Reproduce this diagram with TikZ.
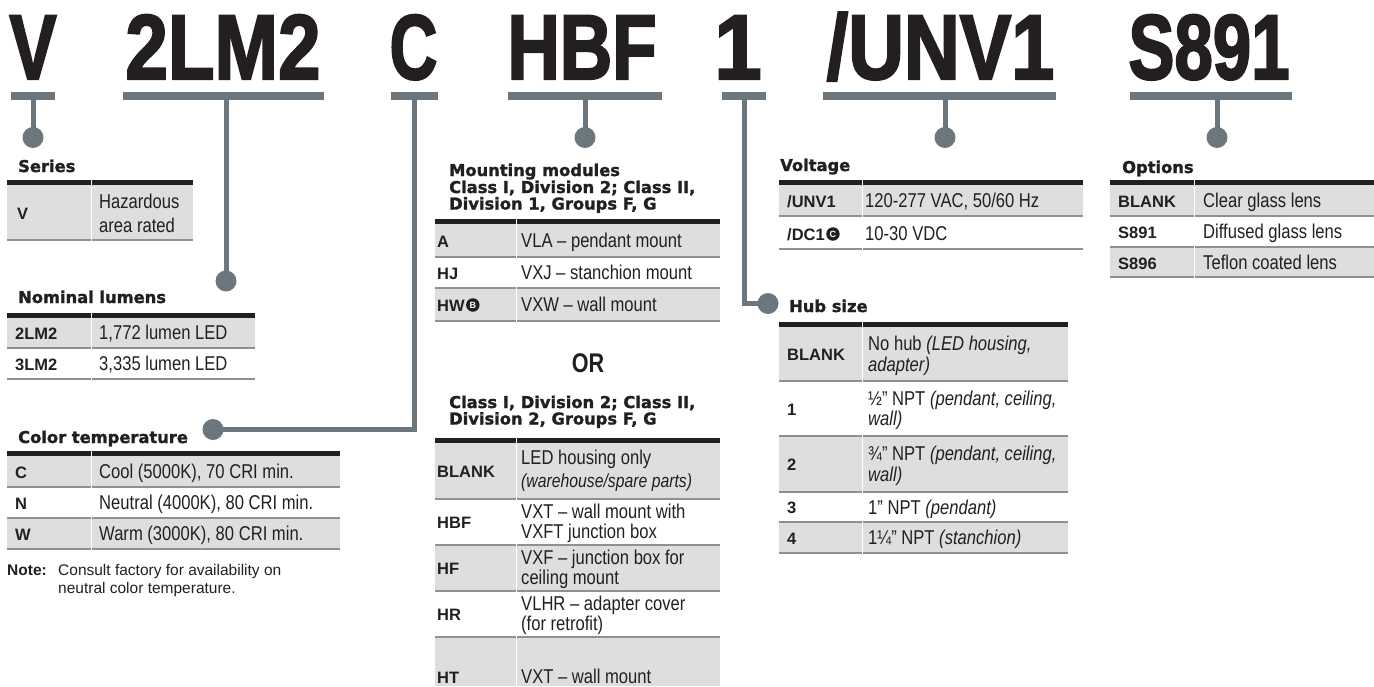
\documentclass[tikz,border=0pt]{standalone}
\usepackage{fontspec}
\setmainfont{Liberation Sans}
\newfontfamily\descf{Liberation Sans}[FakeStretch=0.83]
\newfontfamily\bigf{Liberation Sans}[BoldFeatures={FakeBold=2.5}]
\newfontfamily\hdrf{DejaVu Sans}[BoldFeatures={FakeBold=1.5}]
\definecolor{ink}{HTML}{231F20}
\definecolor{conn}{HTML}{6B767D}
\definecolor{rowgray}{HTML}{DDDEE0}
\definecolor{rulegray}{HTML}{8E9092}
\tikzset{
  big/.style={font=\bigf\bfseries\fontsize{92}{92}\selectfont, anchor=base, inner sep=0, text=ink},
  bar/.style={rectangle, fill=conn, inner sep=0, minimum height=8, draw=none},
  dot/.style={circle, fill=conn, inner sep=0, minimum size=21, draw=none},
  stem/.style={draw=conn, line width=5},
  hdr/.style={font=\hdrf\bfseries\fontsize{16.3}{18}\selectfont, anchor=base west, inner sep=0, text=ink},
  code/.style={font=\bfseries\fontsize{16.5}{18}\selectfont, anchor=base west, inner sep=0, text=ink},
  desc/.style={font=\descf\fontsize{20}{22}\selectfont, anchor=base west, inner sep=0, text=ink},
  descit/.style={font=\descf\itshape\fontsize{19}{21}\selectfont, anchor=base west, inner sep=0, text=ink},
  note/.style={font=\fontsize{15.5}{18}\selectfont, anchor=base west, inner sep=0, text=ink},
  circ/.style={circle, fill=ink, inner sep=0, minimum size=13.5, text=white, font=\bfseries\fontsize{9}{9}\selectfont},
  toprule/.style={draw=ink, line width=5},
  rowrule/.style={draw=rulegray, line width=1.5},
  divline/.style={draw=white, line width=0.8},
}
\begin{document}
\begin{tikzpicture}[x=1pt,y=-1pt]
\useasboundingbox (0,0) rectangle (1374,686);

% ---------- big code letters ----------
\node[big] (kV)   at (33,79)    {\scalebox{0.77}[1]{V}};
\node[big] (kLM)  at (223,79)   {\scalebox{0.83}[1]{2LM2}};
\node[big] (kC)   at (413.5,79) {\scalebox{0.72}[1]{C}};
\node[big] (kHBF) at (582,79)   {\scalebox{0.79}[1]{HBF}};
\node[big] (kOne) at (738,79)   {\scalebox{0.92}[1]{1}};
\node[big] (kUNV) at (940.5,79) {\scalebox{0.84}[1]{/UNV1}};
\node[big] (kS)   at (1209,79)  {\scalebox{0.75}[1]{S891}};

% ---------- bars, dots, connectors ----------
\node[bar, minimum width=44]  (bV)   at (33,96) {};
\node[bar, minimum width=201] (bLM)  at (223.5,96) {};
\node[bar, minimum width=47]  (bC)   at (414.5,96) {};
\node[bar, minimum width=154] (bHBF) at (585,96) {};
\node[bar, minimum width=44]  (bOne) at (744,96) {};
\node[bar, minimum width=233] (bUNV) at (939.5,96) {};
\node[bar, minimum width=162] (bS)   at (1211,96) {};

\node[dot] (dV)   at (33,137.5) {};
\node[dot] (dLM)  at (226,281) {};
\node[dot] (dC)   at (213,429.5) {};
\node[dot] (dHBF) at (585,137.5) {};
\node[dot] (dHub) at (768,303.5) {};
\node[dot] (dUNV) at (945,137.5) {};
\node[dot] (dS)   at (1217,137.5) {};

\draw[stem] (bV.south -| dV.center) -- (dV.center);
\draw[stem] (bLM.south -| dLM.center) -- (dLM.center);
\draw[stem] (bC.south) |- (dC.center);
\draw[stem] (bHBF.south -| dHBF.center) -- (dHBF.center);
\draw[stem] (bOne.south) |- (dHub.center);
\draw[stem] (bUNV.south -| dUNV.center) -- (dUNV.center);
\draw[stem] (bS.south -| dS.center) -- (dS.center);

% ---------- Series ----------
\fill[rowgray] (7,185) rectangle (193,240);
\draw[rowrule] (7,240) -- (193,240);
\draw[toprule] (7,182.5) -- (193,182.5);
\draw[divline] (91,180) -- (91,241);
\node[hdr] (tSer) at (18,172) {Series};
\node[code] (sV) at (17,219) {V};
\node[desc] (sV1) at (99,208) {Hazardous};
\node[desc] (sV2) at (99,232) {area rated};

% ---------- Nominal lumens ----------
\fill[rowgray] (7,317) rectangle (255,348);
\draw[rowrule] (7,348) -- (255,348);
\draw[rowrule] (7,379) -- (255,379);
\draw[toprule] (7,315) -- (255,315);
\draw[divline] (91,312.5) -- (91,380);
\node[hdr] (tLum) at (18,303) {Nominal lumens};
\node[code] (l1) at (15,339.5) {2LM2};
\node[desc] (l1d) at (99,339.5) {1,772 lumen LED};
\node[code] (l2) at (15,370.5) {3LM2};
\node[desc] (l2d) at (99,370.5) {3,335 lumen LED};

% ---------- Color temperature ----------
\fill[rowgray] (7,456) rectangle (340,487);
\fill[rowgray] (7,518) rectangle (340,549);
\foreach \yy in {487,518,549} \draw[rowrule] (7,\yy) -- (340,\yy);
\draw[toprule] (7,453.5) -- (340,453.5);
\draw[divline] (91,451) -- (91,550);
\node[hdr] (tCol) at (18,443) {Color temperature};
\node[code] (c1) at (15,478.5) {C};
\node[desc] (c1d) at (99,478.5) {Cool (5000K), 70 CRI min.};
\node[code] (c2) at (15,509.5) {N};
\node[desc] (c2d) at (99,509.5) {Neutral (4000K), 80 CRI min.};
\node[code] (c3) at (15,540.5) {W};
\node[desc] (c3d) at (99,540.5) {Warm (3000K), 80 CRI min.};
\node[note] (n0) at (7,575) {\bfseries Note:};
\node[note] (n1) at (58,575) {Consult factory for availability on};
\node[note] (n2) at (58,593) {neutral color temperature.};

% ---------- Mounting modules ----------
\node[hdr] (tM1) at (449,176) {Mounting modules};
\node[hdr] (tM2) at (449,193) {Class I, Division 2; Class II,};
\node[hdr] (tM3) at (449,209.5) {Division 1, Groups F, G};
\fill[rowgray] (435,224) rectangle (720,257);
\fill[rowgray] (435,288) rectangle (720,321);
\foreach \yy in {257,288,321} \draw[rowrule] (435,\yy) -- (720,\yy);
\draw[toprule] (435,221) -- (720,221);
\draw[divline] (516,218) -- (516,322);
\node[code] (mA) at (437,247.5) {A};
\node[desc] (mAd) at (521,247.5) {VLA – pendant mount};
\node[code] (mHJ) at (437,279) {HJ};
\node[desc] (mHJd) at (521,279) {VXJ – stanchion mount};
\node[code] (mHW) at (437,311) {HW};
\node[circ, anchor=west] (cB) at ([xshift=1pt,yshift=6pt]mHW.base east) {B};
\node[desc] (mHWd) at (521,311) {VXW – wall mount};

\node[font=\bfseries\fontsize{27}{27}\selectfont, anchor=base, inner sep=0, text=ink] (orT) at (588,372) {\scalebox{0.8}[1]{OR}};

\node[hdr] (tM4) at (449,408) {Class I, Division 2; Class II,};
\node[hdr] (tM5) at (449,424.5) {Division 2, Groups F, G};
\fill[rowgray] (435,443) rectangle (720,499);
\fill[rowgray] (435,545) rectangle (720,591);
\fill[rowgray] (435,637) rectangle (720,686);
\foreach \yy in {499,545,591,637} \draw[rowrule] (435,\yy) -- (720,\yy);
\draw[toprule] (435,440) -- (720,440);
\draw[divline] (516,437) -- (516,686);
\node[code] (mBL) at (437,477) {BLANK};
\node[desc] (mBLd) at (521,464) {LED housing only};
\node[descit] (mBLe) at (521,487) {(warehouse/spare parts)};
\node[code] (mHBF) at (437,528) {HBF};
\node[desc] (mHBFd) at (521,518.5) {VXT – wall mount with};
\node[desc] (mHBFe) at (521,538.5) {VXFT junction box};
\node[code] (mHF) at (437,574) {HF};
\node[desc] (mHFd) at (521,564.5) {VXF – junction box for};
\node[desc] (mHFe) at (521,584.5) {ceiling mount};
\node[code] (mHR) at (437,620) {HR};
\node[desc] (mHRd) at (521,610.5) {VLHR – adapter cover};
\node[desc] (mHRe) at (521,630.5) {(for retrofit)};
\node[code] (mHT) at (437,683) {HT};
\node[desc] (mHTd) at (521,683) {VXT – wall mount};

% ---------- Voltage ----------
\node[hdr] (tVol) at (780,171) {Voltage};
\fill[rowgray] (779,185) rectangle (1083,216);
\foreach \yy in {216,249} \draw[rowrule] (779,\yy) -- (1083,\yy);
\draw[toprule] (779,182.5) -- (1083,182.5);
\draw[divline] (862,180) -- (862,250);
\node[code] (v1) at (787,207) {/UNV1};
\node[desc] (v1d) at (865,207) {120-277 VAC, 50/60 Hz};
\node[code] (v2) at (787,240) {/DC1};
\node[circ, anchor=west] (cC) at ([xshift=1pt,yshift=6pt]v2.base east) {C};
\node[desc] (v2d) at (865,240) {10-30 VDC};

% ---------- Hub size ----------
\node[hdr] (tHub) at (789,312) {Hub size};
\fill[rowgray] (779,326) rectangle (1068,381);
\fill[rowgray] (779,436) rectangle (1068,492);
\fill[rowgray] (779,522) rectangle (1068,553);
\foreach \yy in {381,436,492,522,553} \draw[rowrule] (779,\yy) -- (1068,\yy);
\draw[toprule] (779,324) -- (1068,324);
\draw[divline] (862,321.5) -- (862,554);
\node[code] (h0) at (787,360) {BLANK};
\node[desc] (h0d) at (868,350.5) {No hub \itshape (LED housing,};
\node[desc] (h0e) at (868,371) {\itshape adapter)};
\node[code] (h1) at (787,415) {1};
\node[desc] (h1d) at (868,405) {½” NPT \itshape (pendant, ceiling,};
\node[desc] (h1e) at (868,425.5) {\itshape wall)};
\node[code] (h2) at (787,470.5) {2};
\node[desc] (h2d) at (868,460.5) {¾” NPT \itshape (pendant, ceiling,};
\node[desc] (h2e) at (868,481) {\itshape wall)};
\node[code] (h3) at (787,513.5) {3};
\node[desc] (h3d) at (868,514) {1” NPT \itshape (pendant)};
\node[code] (h4) at (787,544) {4};
\node[desc] (h4d) at (868,544.5) {1¼” NPT \itshape (stanchion)};

% ---------- Options ----------
\node[hdr] (tOpt) at (1122,173) {Options};
\fill[rowgray] (1110,184) rectangle (1374,216);
\fill[rowgray] (1110,247) rectangle (1374,277);
\foreach \yy in {216,247,277} \draw[rowrule] (1110,\yy) -- (1374,\yy);
\draw[toprule] (1110,182) -- (1374,182);
\draw[divline] (1194,179.5) -- (1194,278);
\node[code] (o1) at (1118,207) {BLANK};
\node[desc] (o1d) at (1203,207) {Clear glass lens};
\node[code] (o2) at (1118,238.5) {S891};
\node[desc] (o2d) at (1203,238.5) {Diffused glass lens};
\node[code] (o3) at (1118,269) {S896};
\node[desc] (o3d) at (1203,269) {Teflon coated lens};
\end{tikzpicture}
\end{document}
